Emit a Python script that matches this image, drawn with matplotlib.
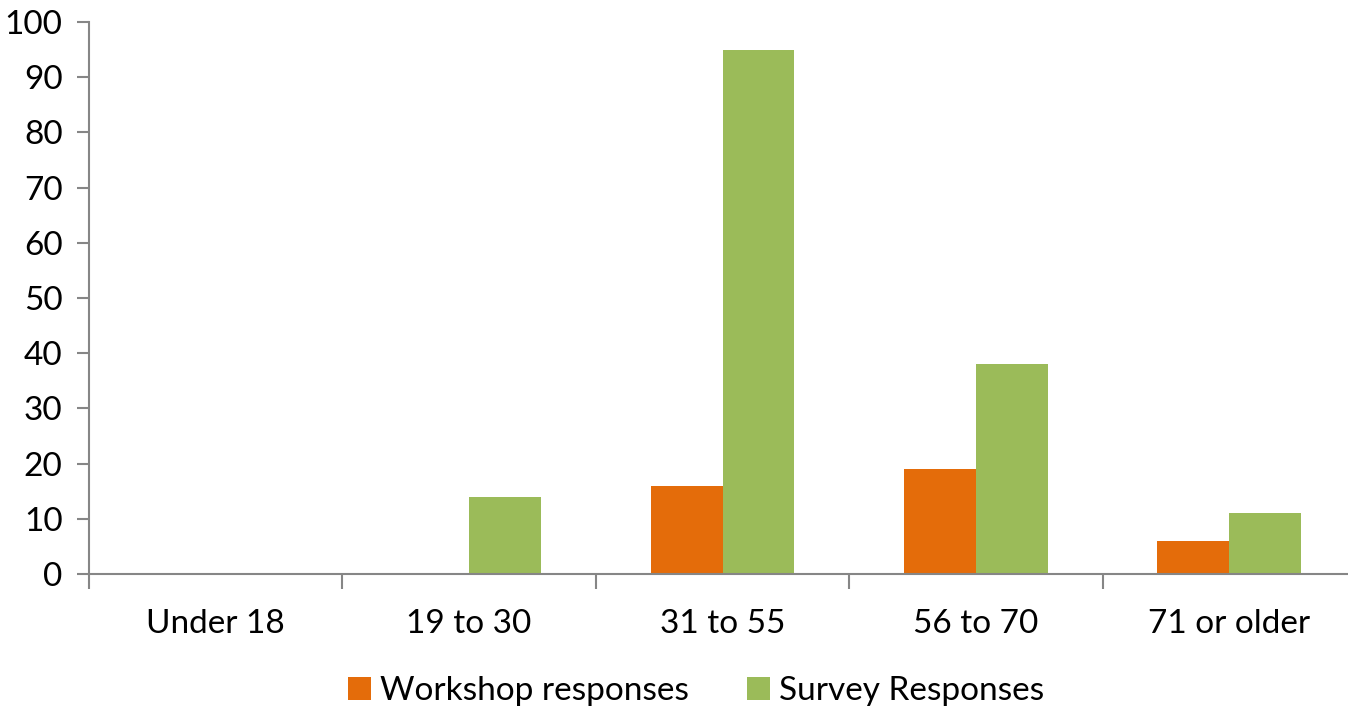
import numpy as np
import matplotlib.pyplot as plt

categories = ["Under 18", "19 to 30", "31 to 55", "56 to 70", "71 or older"]
workshop = [0, 0, 16, 19, 6]
survey = [0, 14, 95, 38, 11]

plt.rcParams["font.family"] = ["Lato", "DejaVu Sans"]

fig = plt.figure(figsize=(13.48, 7.09), dpi=100)
# axes box in pixels: left 89, right ~1356, y=0 at 574, y=100 at 22
ax = fig.add_axes([89 / 1348, (709 - 574) / 709, (1356 - 89) / 1348, (574 - 22) / 709])

x = np.arange(len(categories))
w = 0.284
ax.bar(x - w / 2, workshop, w, color="#E46C0A", label="Workshop responses")
ax.bar(x + w / 2, survey, w, color="#9BBB59", label="Survey Responses")

ax.set_xlim(-0.5, len(categories) - 0.5)
ax.set_ylim(0, 100)
ax.set_yticks(range(0, 101, 10))
ax.set_xticks(x)
ax.set_xticklabels(categories)
ax.tick_params(axis="x", length=0, pad=25, labelsize=24)
ax.set_xticks(np.arange(-0.5, len(categories), 1), minor=True)
ax.tick_params(axis="x", which="minor", length=11, width=1.5, color="#868686")
ax.tick_params(axis="y", length=9, width=1.5, color="#868686", labelsize=24, pad=10)

for s in ["top", "right"]:
    ax.spines[s].set_visible(False)
for s in ["left", "bottom"]:
    ax.spines[s].set_color("#868686")
    ax.spines[s].set_linewidth(1.5)

fig.legend(loc="center", bbox_to_anchor=(696 / 1348, 18 / 709), ncol=2, frameon=False,
           fontsize=24, handlelength=0.7, handleheight=0.7, handletextpad=0.25,
           columnspacing=1.75)

fig.savefig("out.png", dpi=100)
